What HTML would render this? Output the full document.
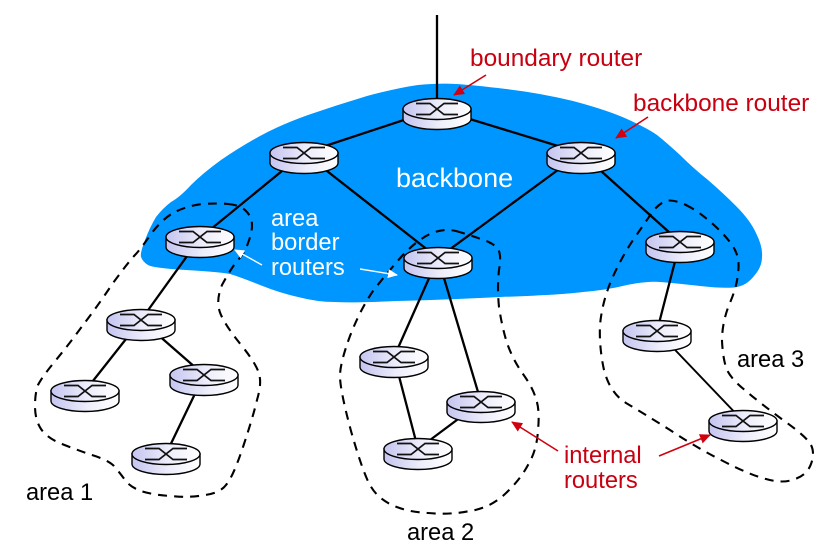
<!DOCTYPE html>
<html><head><meta charset="utf-8"><style>
html,body{margin:0;padding:0;background:#fff;width:838px;height:549px;overflow:hidden}
svg{display:block}
text{font-family:"Liberation Sans",sans-serif;font-size:23.7px}
.w{fill:#fff}.r{fill:#c80010}.k{fill:#000}
.l{stroke:#000;stroke-width:2.3;fill:none}
.d{stroke:#000;stroke-width:2.1;fill:none;stroke-dasharray:9 7}
</style></head><body>
<svg width="838" height="549" viewBox="0 0 838 549" xmlns="http://www.w3.org/2000/svg">
<defs>
<linearGradient id="g" x1="0" x2="1" y1="0" y2="0"><stop offset="0" stop-color="#c4c4f0"/><stop offset=".55" stop-color="#eeeefb"/><stop offset="1" stop-color="#ffffff"/></linearGradient>
<g id="rt">
<path d="M-34 0V10A34 10.5 0 0 0 34 10V0Z" fill="url(#g)" stroke="#000" stroke-width="1.4"/>
<ellipse rx="34" ry="10.5" fill="url(#g)" stroke="#000" stroke-width="1.4"/>
<path d="M-21-5.5H-7L7 5.5H21M-21 5.5H-7L7-5.5H21" fill="none" stroke="#111" stroke-width="1.7"/>
</g>
<marker id="ar" markerWidth="11" markerHeight="10" refX="10" refY="5" orient="auto" markerUnits="userSpaceOnUse"><path d="M0 0L11 5L0 10Z" fill="#d00010"/></marker>
<marker id="aw" markerWidth="10" markerHeight="9" refX="9" refY="4.5" orient="auto" markerUnits="userSpaceOnUse"><path d="M0 0L10 4.5L0 9Z" fill="#fff"/></marker>
</defs>
<path fill="#0096ff" d="M456 84Q473 85 506 89Q540 93 573 101Q607 110 627 119Q647 128 657 135Q667 143 680 155Q693 168 708 180Q723 193 736 206Q750 220 756 233Q763 247 762 257Q762 267 754 276Q747 285 737 287Q727 289 700 286Q673 283 660 282Q647 281 627 285Q607 290 583 292Q560 295 500 297Q440 300 396 301Q353 303 335 302Q317 302 298 297Q280 293 260 285Q240 277 230 274Q220 272 186 270Q153 268 148 265Q143 262 141 257Q140 253 145 240Q150 227 156 217Q163 208 171 202Q180 197 191 185Q203 173 221 160Q240 147 260 136Q280 125 308 115Q337 105 367 96Q397 88 418 85Q440 83 456 84Z"/>
<g class="l">
<path d="M437 15V100"/>
<path d="M437 109L304 153M437 109L581 153M304 153L200 238M304 153L438 258M581 153L438 258M581 153L680 242M200 238L141 320M141 320L85 391M141 320L204 375M204 375L166 454M438 258L394 357M438 258L481 402M394 357L418 449M481 402L418 449M680 242L657 331"/>
<path d="M657 331L743 421" stroke-width="1.9"/>
</g>
<g class="d">
<path d="M228 204Q240 205 246 211Q252 217 252 225Q252 233 248 243Q245 253 237 261Q230 270 222 285Q215 302 221 315Q227 328 242 346Q257 365 259 374Q262 383 257 400Q253 417 243 447Q233 477 226 485Q220 493 205 495Q190 498 171 496Q153 495 141 491Q130 487 125 480Q120 473 114 466Q108 460 92 455Q77 450 62 444Q47 438 41 429Q35 420 35 406Q35 393 38 385Q42 377 56 360Q70 343 83 325Q97 307 113 283Q130 260 135 255Q140 250 151 234Q163 218 175 212Q187 206 202 204Q217 203 228 204Z"/>
<path d="M456 231Q470 235 481 239Q493 243 497 248Q502 253 499 270Q497 287 499 307Q502 327 507 343Q513 360 523 374Q533 388 536 399Q540 410 538 430Q537 450 528 465Q520 480 505 494Q490 508 470 511Q450 515 428 513Q407 512 392 505Q377 498 370 485Q363 473 351 431Q340 390 340 376Q340 363 350 336Q360 310 373 291Q387 273 402 256Q417 240 430 234Q443 228 456 231Z"/>
<path d="M686 205Q700 212 715 226Q730 240 735 250Q740 260 738 273Q737 287 729 305Q722 323 722 341Q723 360 727 370Q732 380 746 391Q760 403 783 420Q807 437 811 445Q815 453 811 464Q807 475 795 479Q783 484 766 479Q750 475 723 461Q697 448 670 430Q643 413 626 403Q610 393 604 370Q599 347 600 325Q602 303 611 281Q620 260 633 240Q647 220 653 211Q660 203 666 201Q673 199 686 205Z"/>
</g>
<g>
<use href="#rt" x="437" y="109"/><use href="#rt" x="304" y="153"/><use href="#rt" x="581" y="153"/>
<use href="#rt" x="200" y="237"/><use href="#rt" x="438" y="258"/><use href="#rt" x="680" y="242"/>
<use href="#rt" x="141" y="320"/><use href="#rt" x="85" y="391"/><use href="#rt" x="204" y="375"/>
<use href="#rt" x="166" y="454"/><use href="#rt" x="394" y="357"/><use href="#rt" x="481" y="402"/>
<use href="#rt" x="418" y="449"/><use href="#rt" x="657" y="331"/><use href="#rt" x="743" y="421"/>
</g>
<g stroke="#d00010" stroke-width="1.6" fill="none">
<path d="M486 75L454 95" marker-end="url(#ar)"/>
<path d="M648 117L616 138" marker-end="url(#ar)"/>
<path d="M558 451L512 422" marker-end="url(#ar)"/>
<path d="M659 456L710 435" marker-end="url(#ar)"/>
</g>
<g stroke="#fff" stroke-width="1.4" fill="none">
<path d="M262 265L235 250" marker-end="url(#aw)"/>
<path d="M360 269L397 275" marker-end="url(#aw)"/>
</g>
<text class="r" x="470" y="66" style="font-size:24.4px">boundary router</text>
<text class="r" x="633" y="111" style="font-size:24.4px">backbone router</text>
<text class="w" x="396" y="187" style="font-size:27px">backbone</text>
<text class="w" x="271" y="226">area</text>
<text class="w" x="271" y="250">border</text>
<text class="w" x="271" y="275">routers</text>
<text class="k" x="26" y="500">area 1</text>
<text class="k" x="407" y="540">area 2</text>
<text class="k" x="737" y="367">area 3</text>
<text class="r" x="564" y="463">internal</text>
<text class="r" x="564" y="488">routers</text>
</svg>
</body></html>
